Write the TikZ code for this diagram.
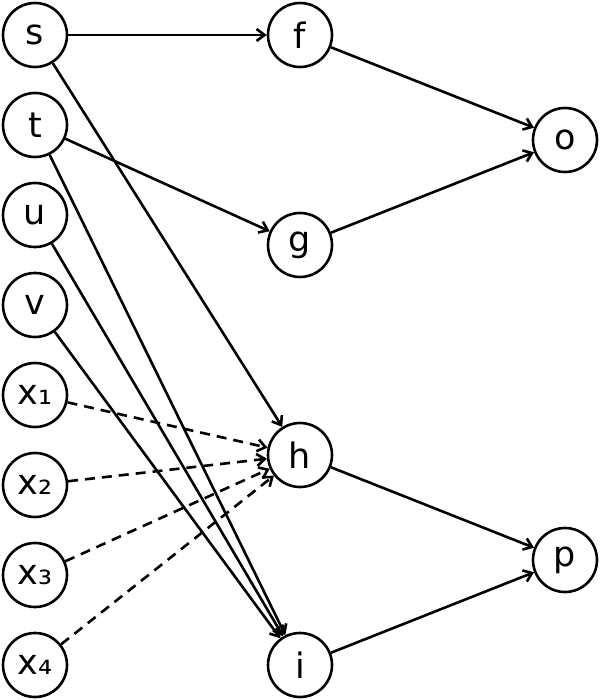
\documentclass[tikz,border=0pt]{standalone}
\usepackage{fontspec}
\setmainfont{DejaVu Sans}
\usetikzlibrary{arrows.meta}
\begin{document}
\begin{tikzpicture}[x=1pt,y=-1pt,
  vert/.style={circle,draw,line width=2.6pt,minimum size=64pt,inner sep=0pt,font=\fontsize{35}{38}\selectfont},
  edge/.style={line width=2.6pt,-{Straight Barb[length=8pt,width=12pt,line width=2.6pt]}},
  dedge/.style={edge,dash pattern=on 10pt off 7pt}]
\useasboundingbox (0,0) rectangle (600,700);
\node[vert] (s) at (35,35) {s};
\node[vert] (t) at (35,125) {t};
\node[vert] (u) at (35,215) {u};
\node[vert] (v) at (35,305) {v};
\node[vert] (x1) at (35,395) {x₁};
\node[vert] (x2) at (35,485) {x₂};
\node[vert] (x3) at (35,575) {x₃};
\node[vert] (x4) at (35,665) {x₄};
\node[vert] (f) at (300,35) {f};
\node[vert] (g) at (300,245) {g};
\node[vert] (h) at (300,455) {h};
\node[vert] (i) at (300,665) {i};
\node[vert] (o) at (565,140) {o};
\node[vert] (p) at (565,560) {p};
\draw[edge] (s) -- (f);
\draw[edge] (s) -- (h);
\draw[edge] (t) -- (g);
\draw[edge] (t) -- (i);
\draw[edge] (u) -- (i);
\draw[edge] (v) -- (i);
\draw[edge] (f) -- (o);
\draw[edge] (g) -- (o);
\draw[edge] (h) -- (p);
\draw[edge] (i) -- (p);
\draw[dedge] (x1) -- (h);
\draw[dedge] (x2) -- (h);
\draw[dedge] (x3) -- (h);
\draw[dedge] (x4) -- (h);
\end{tikzpicture}
\end{document}
